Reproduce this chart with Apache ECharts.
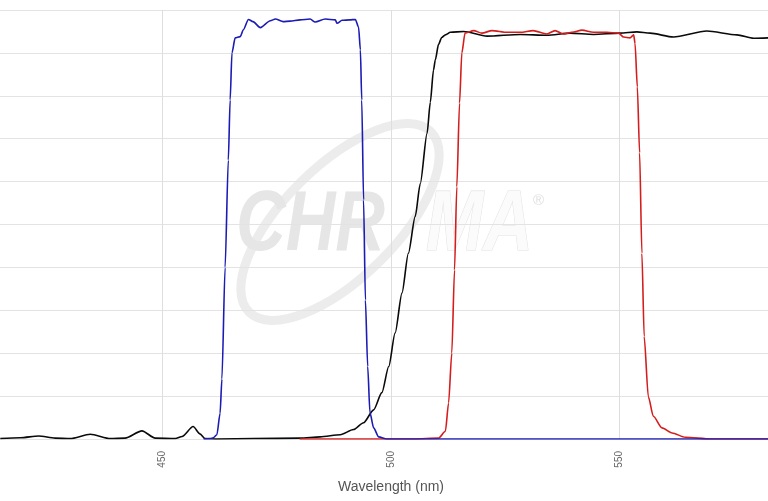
<!DOCTYPE html>
<html>
<head>
<meta charset="utf-8">
<script src="https://cdn.jsdelivr.net/npm/echarts@6/dist/echarts.min.js"></script>
<style>
html,body{margin:0;padding:0;background:#fff;}
#chart{width:768px;height:501px;}
</style>
</head>
<body>
<div id="chart"></div>
<script>
// Wavelength (nm) / transmission (%) pairs
const blackCurve = [
  [414.5,0.1],[418.9,0.3],[422.9,0.7],[426.5,0.2],[429.8,0.1],[434.2,1.1],[438.6,0.1],
  [441.8,0.2],[445.5,1.9],[448.4,0.2],[452.8,0.1],[454.3,0.6],[456.7,2.9],[458.2,1.2],
  [459.3,0.1],[462,0],[470,0.1],[480.1,0.2],[484.5,0.5],[488.9,1.0],[491.8,2.2],
  [494.0,3.8],[496.2,6.8],[498.0,10.8],[499.5,16.9],[500.9,24.7],[502.4,34],[503.8,43.3],
  [505.3,51.9],[506.4,59.5],[507.9,71.3],[508.6,78.5],[509.3,86],[509.7,88.4],[510.4,92],
  [511.1,93.6],[511.9,94.2],[513.0,94.8],[515.9,95.0],[521.0,93.9],[528.3,94.3],
  [534.1,94.1],[539.2,94.6],[544.3,94.3],[550.1,94.6],[553.8,94.9],[556.7,94.6],
  [561.8,93.7],[569.1,95.1],[575.7,94.2],[579.3,93.4],[582.5,93.5]
];
const redCurve = [
  [480,0],[505,0],[510.4,0.2],[511.9,1.8],[512.6,8.4],[513.3,20],[513.9,39.4],[514.4,58.8],
  [515.0,78.3],[515.5,90],[516.2,94.6],[518.1,95.2],[519.9,94.6],[522.1,95.2],[525.4,94.8],
  [528.3,94.8],[531.1,95.2],[534.1,94.4],[535.9,95.2],[537.7,94.4],[539.6,94.8],
  [541.8,95.3],[544.3,94.8],[547.2,94.8],[549.8,94.6],[550.9,93.7],[552.3,93.5],
  [553.1,94.2],[553.4,92.2],[553.9,82.1],[554.4,66.7],[554.9,43.3],[555.4,23.9],
  [556.3,9.9],[557.4,5.3],[559.3,2.6],[561.5,1.4],[564.4,0.4],[570,0],[582.5,0]
];
const blueCurve = [
  [459.0,0],[460.5,0.1],[461.1,0.3],[461.9,1],[462.6,6],[463.0,14],[463.7,40],[464.4,65],
  [464.8,79],[465.2,90],[465.9,93.5],[467.0,93.8],[467.7,95.4],[468.8,97.8],[469.8,97.3],
  [471.4,95.9],[473.6,97.5],[474.7,97.9],[476.4,97.3],[477.9,97.4],[480.1,97.7],
  [482.3,97.9],[483.4,97.2],[485.6,97.9],[487.8,97.7],[488.2,96.9],[489.3,97.6],
  [491.0,97.7],[492.2,97.8],[492.9,96.0],[493.3,90.7],[493.6,79],[494.0,55.7],[494.4,32.4],
  [494.9,16.9],[495.4,6.1],[496.2,2.6],[497.3,0.5],[499.1,0],[582.5,0]
];
const xTickValues = [450, 500, 550];
const axisTitle = 'Wavelength (nm)';

const chart = echarts.init(document.getElementById('chart'), null, {renderer:'canvas'});
function line(data, color){
  return {
    type:'line', data:data, showSymbol:false, symbol:'none',
    smooth:0.25, smoothMonotone:'x',
    lineStyle:{color:color, width:1.6}, itemStyle:{color:color},
    clip:true, silent:true, animation:false
  };
}
const wmFont = 'italic bold 86px "Liberation Sans", sans-serif';
chart.setOption({
  animation:false,
  backgroundColor:'#fff',
  grid:{left:-66, top:10, width:914, height:429, containLabel:false, outerBoundsMode:'none'},
  xAxis:{
    type:'value', min:400, max:600, interval:50,
    axisLine:{show:false}, axisTick:{show:false},
    axisLabel:{
      rotate:90, margin:12, fontSize:10, color:'#666',
      formatter:function(v){ return xTickValues.indexOf(v) >= 0 ? String(v) : ''; }
    },
    splitLine:{show:true, lineStyle:{color:'#dedede', width:1}},
    name:axisTitle, nameLocation:'middle', nameGap:41,
    nameTextStyle:{fontSize:14, color:'#555'}
  },
  yAxis:{
    type:'value', min:0, max:100, interval:10,
    axisLine:{show:false}, axisTick:{show:false}, axisLabel:{show:false},
    splitLine:{show:true, lineStyle:{color:'#e3e3e3', width:1}}
  },
  graphic:[
    {type:'ellipse', silent:true, z:-10, x:340, y:222, rotation:0.78,
     shape:{cx:0, cy:0, rx:128, ry:56},
     style:{fill:'none', stroke:'#ececec', lineWidth:9}},
    {type:'text', silent:true, z:-10, x:236, y:226, scaleX:0.8,
     style:{text:'CHR', font:wmFont, fill:'#e6e6e6', verticalAlign:'middle', align:'left'}},
    {type:'text', silent:true, z:-10, x:426, y:226, scaleX:0.8,
     style:{text:'MA', font:wmFont, fill:'#fbfbfb', stroke:'#e2e2e2', lineWidth:1.2, verticalAlign:'middle', align:'left'}},
    {type:'text', silent:true, z:-10, x:533, y:201,
     style:{text:'®', font:'15px "Liberation Sans", sans-serif', fill:'#e0e0e0', verticalAlign:'middle'}}
  ],
  series:[ line(blackCurve,'#0a0a0a'), line(redCurve,'#d41e1e'), line(blueCurve,'#1c1cb4') ]
});
</script>
</body>
</html>
